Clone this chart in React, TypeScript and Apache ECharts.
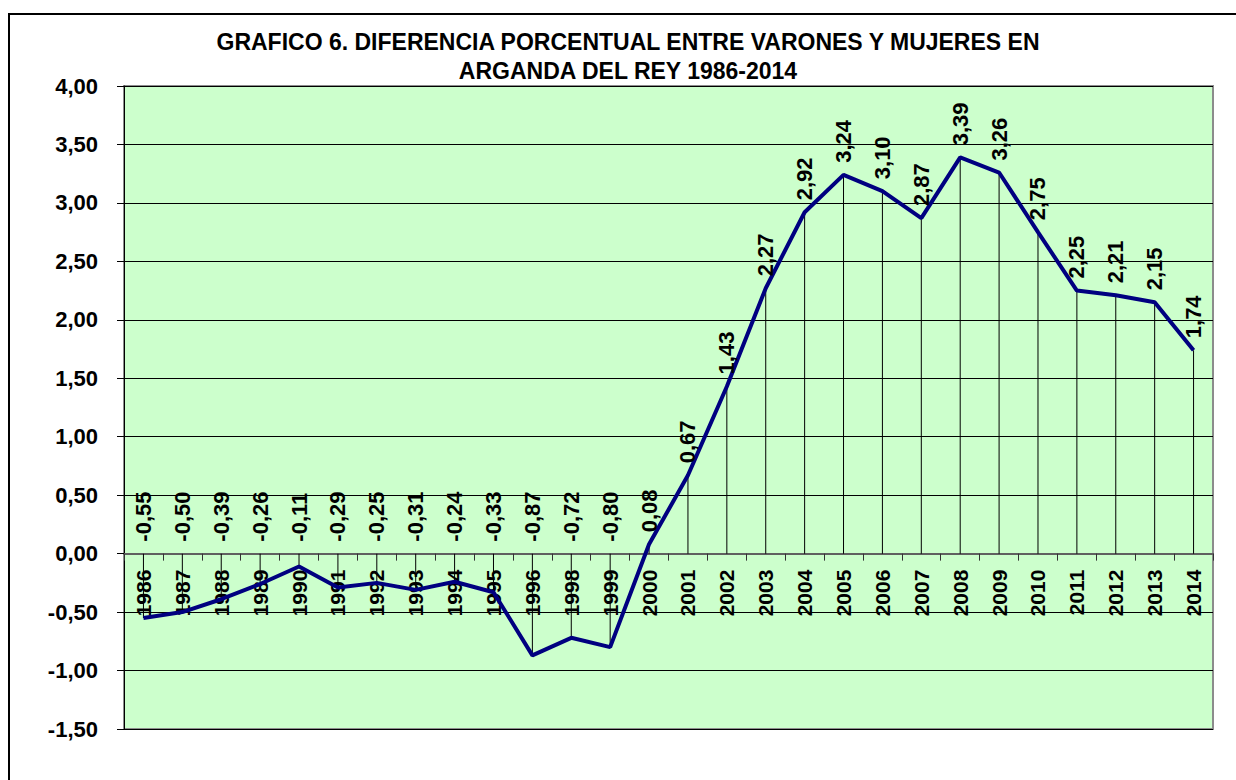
import React, { useEffect, useRef } from 'react';
import * as echarts from 'echarts';

const titleLines = [
  'GRAFICO 6. DIFERENCIA PORCENTUAL ENTRE VARONES Y MUJERES EN',
  'ARGANDA DEL REY 1986-2014',
];

const years = [
  '1986', '1987', '1988', '1989', '1990', '1991', '1992', '1993', '1994', '1995',
  '1996', '1998', '1999', '2000', '2001', '2002', '2003', '2004', '2005', '2006',
  '2007', '2008', '2009', '2010', '2011', '2012', '2013', '2014',
];

const values = [
  -0.55, -0.5, -0.39, -0.26, -0.11, -0.29, -0.25, -0.31, -0.24, -0.33,
  -0.87, -0.72, -0.8, 0.08, 0.67, 1.43, 2.27, 2.92, 3.24, 3.1,
  2.87, 3.39, 3.26, 2.75, 2.25, 2.21, 2.15, 1.74,
];

const yMin = -1.5;
const yMax = 4;
const yStep = 0.5;

const W = 1236;
const H = 780;
const GRID = { left: 124, top: 86, right: 23, bottom: 51 };

const FONT = "'Liberation Sans', Arial, sans-serif";
const fmt = (v: number) => v.toFixed(2).replace('.', ',');

export default function App() {
  const ref = useRef<HTMLDivElement>(null);
  useEffect(() => {
    const chart = echarts.init(ref.current as HTMLDivElement, null, { renderer: 'svg' });
    const plotH = H - GRID.top - GRID.bottom;
    const zeroOffset = -plotH * (0 - yMin) / (yMax - yMin);
    chart.setOption({
      animation: false,
      backgroundColor: '#ffffff',
      graphic: [
        {
          type: 'rect',
          z: -10,
          silent: true,
          shape: { x: 9, y: 14, width: 1300, height: 900 },
          style: { fill: 'none', stroke: '#000', lineWidth: 2 },
        },
        {
          type: 'text',
          x: 628,
          y: 30,
          silent: true,
          style: {
            text: titleLines[0],
            fill: '#000',
            font: `bold 23px ${FONT}`,
            align: 'center',
            verticalAlign: 'top',
          },
        },
        {
          type: 'text',
          x: 628,
          y: 59,
          silent: true,
          style: {
            text: titleLines[1],
            fill: '#000',
            font: `bold 23px ${FONT}`,
            align: 'center',
            verticalAlign: 'top',
          },
        },
      ],
      grid: {
        left: GRID.left,
        top: GRID.top,
        right: GRID.right,
        bottom: GRID.bottom,
        outerBoundsMode: 'none',
        containLabel: false,
        show: true,
        backgroundColor: '#CCFFCC',
        borderColor: '#8c8c8c',
        borderWidth: 2,
      },
      xAxis: {
        type: 'category',
        data: years,
        boundaryGap: true,
        position: 'bottom',
        offset: zeroOffset,
        axisLine: { onZero: false, lineStyle: { color: '#606060', width: 2 } },
        axisTick: { show: true, length: 7, lineStyle: { color: '#333', width: 1 } },
        axisLabel: {
          rotate: 90,
          interval: 0,
          margin: 16,
          color: '#000',
          fontWeight: 'bold',
          fontSize: 21,
          fontFamily: FONT,
        },
        splitLine: { show: false },
      },
      yAxis: {
        type: 'value',
        min: yMin,
        max: yMax,
        interval: yStep,
        axisLine: { show: true, onZero: false, lineStyle: { color: '#000', width: 1 } },
        axisTick: { show: true, length: 7, lineStyle: { color: '#000' } },
        axisLabel: {
          formatter: (v: number) => fmt(v),
          margin: 26,
          color: '#000',
          fontWeight: 'bold',
          fontSize: 22,
          fontFamily: FONT,
        },
        splitLine: { show: true, lineStyle: { color: '#000', width: 1 } },
      },
      series: [
        {
          type: 'bar',
          data: values,
          barWidth: 1,
          itemStyle: { color: '#000' },
          z: 2,
        },
        {
          type: 'line',
          data: values,
          symbol: 'none',
          lineStyle: { color: '#000080', width: 4 },
          z: 3,
        },
        {
          type: 'scatter',
          data: values.map((v) => Math.max(v, 0)),
          symbolSize: 0,
          itemStyle: { color: '#000', opacity: 1 },
          z: 4,
          label: {
            show: true,
            formatter: (p: any) => fmt(values[p.dataIndex]),
            position: 'top',
            distance: 12,
            rotate: 90,
            align: 'left',
            verticalAlign: 'middle',
            color: '#000',
            opacity: 1,
            textBorderWidth: 0,
            fontWeight: 'bold',
            fontSize: 22,
            fontFamily: FONT,
          },
        },
      ],
    });
    return () => chart.dispose();
  }, []);
  return (
    <div
      ref={ref}
      style={{ position: 'absolute', left: 0, top: 0, width: W, height: H }}
    />
  );
}
